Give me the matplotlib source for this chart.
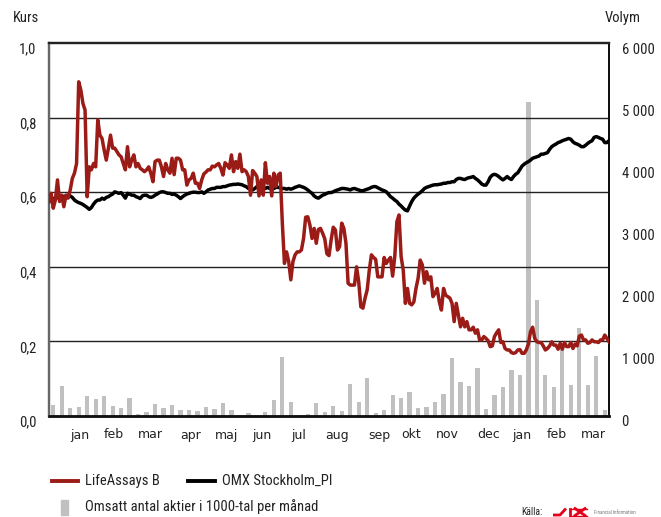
import numpy as np
import matplotlib
matplotlib.use("Agg")
import matplotlib.pyplot as plt
from matplotlib import font_manager
from matplotlib.font_manager import FontProperties
from matplotlib.transforms import ScaledTranslation
from matplotlib.lines import Line2D
from matplotlib.patches import Rectangle

# ---------------- data ----------------
month_labels = ["jan", "feb", "mar", "apr", "maj", "jun", "jul", "aug",
                "sep", "okt", "nov", "dec", "jan", "feb", "mar"]
month_pos = [3.14, 7.14, 11.5, 16.2, 20.4, 24.6, 28.9, 33.4,
             38.4, 42.2, 46.5, 51.3, 55.2, 59.3, 63.6]

volume = [177, 483, 129, 145, 322, 274, 322, 161, 129, 290,
          32, 64, 193, 129, 177, 97, 97, 80, 145, 113,
          209, 97, 16, 48, 0, 64, 258, 950, 225, 16,
          32, 209, 64, 161, 80, 515, 225, 612, 48, 97,
          338, 290, 386, 129, 145, 225, 354, 934, 547, 483,
          773, 113, 338, 467, 741, 660, 5050, 1870, 660, 467,
          1140, 499, 1415, 499, 966, 97]

lifeassays = [
    0.575, 0.597, 0.557, 0.579, 0.633, 0.575, 0.592, 0.561, 0.592, 0.584,
    0.606, 0.637, 0.651, 0.677, 0.896, 0.874, 0.838, 0.820, 0.588, 0.668,
    0.660, 0.677, 0.668, 0.794, 0.753, 0.744, 0.713, 0.686, 0.718, 0.753,
    0.718, 0.718, 0.709, 0.700, 0.695, 0.677, 0.660, 0.722, 0.668, 0.686,
    0.700, 0.668, 0.677, 0.664, 0.660, 0.655, 0.660, 0.668, 0.651, 0.628,
    0.682, 0.686, 0.686, 0.668, 0.642, 0.677, 0.660, 0.651, 0.691, 0.647,
    0.691, 0.691, 0.686, 0.660, 0.660, 0.619, 0.633, 0.637, 0.651, 0.624,
    0.624, 0.610, 0.633, 0.649, 0.654, 0.660, 0.660, 0.670, 0.668, 0.673,
    0.677, 0.664, 0.646, 0.679, 0.673, 0.664, 0.700, 0.655, 0.682, 0.664,
    0.702, 0.655, 0.660, 0.655, 0.642, 0.592, 0.658, 0.651, 0.642, 0.590,
    0.633, 0.592, 0.679, 0.624, 0.642, 0.590, 0.651, 0.615, 0.646, 0.651,
    0.517, 0.409, 0.440, 0.414, 0.365, 0.414, 0.432, 0.440, 0.440, 0.445,
    0.476, 0.533, 0.534, 0.512, 0.476, 0.503, 0.463, 0.500, 0.503, 0.490,
    0.475, 0.435, 0.430, 0.472, 0.506, 0.499, 0.445, 0.454, 0.517, 0.503,
    0.463, 0.356, 0.351, 0.351, 0.351, 0.400, 0.360, 0.293, 0.289, 0.316,
    0.338, 0.391, 0.432, 0.425, 0.420, 0.373, 0.373, 0.373, 0.425, 0.409,
    0.418, 0.425, 0.375, 0.427, 0.521, 0.539, 0.427, 0.391, 0.302, 0.342,
    0.302, 0.298, 0.306, 0.342, 0.369, 0.418, 0.405, 0.356, 0.387, 0.365,
    0.373, 0.320, 0.329, 0.342, 0.306, 0.284, 0.342, 0.324, 0.320, 0.316,
    0.302, 0.253, 0.302, 0.271, 0.239, 0.262, 0.239, 0.253, 0.231, 0.231,
    0.238, 0.222, 0.231, 0.204, 0.204, 0.213, 0.208, 0.202, 0.186, 0.188,
    0.213, 0.223, 0.231, 0.197, 0.199, 0.181, 0.177, 0.177, 0.170, 0.168,
    0.170, 0.177, 0.178, 0.168, 0.168, 0.177, 0.193, 0.226, 0.238, 0.208,
    0.199, 0.197, 0.197, 0.188, 0.177, 0.181, 0.188, 0.199, 0.190, 0.190,
    0.179, 0.195, 0.179, 0.197, 0.186, 0.186, 0.197, 0.181, 0.193, 0.188,
    0.214, 0.217, 0.204, 0.204, 0.195, 0.197, 0.204, 0.199, 0.199, 0.197,
    0.204, 0.204, 0.217, 0.208, 0.199]

omx = [
    0.575, 0.578, 0.582, 0.585, 0.585, 0.588, 0.590, 0.588, 0.590, 0.592,
    0.590, 0.586, 0.579, 0.575, 0.572, 0.570, 0.567, 0.563, 0.559, 0.554,
    0.559, 0.568, 0.575, 0.579, 0.579, 0.584, 0.581, 0.586, 0.588, 0.592,
    0.595, 0.601, 0.599, 0.597, 0.599, 0.592, 0.584, 0.597, 0.595, 0.592,
    0.592, 0.588, 0.586, 0.583, 0.590, 0.592, 0.592, 0.588, 0.586, 0.588,
    0.592, 0.595, 0.599, 0.601, 0.601, 0.599, 0.597, 0.597, 0.594, 0.595,
    0.592, 0.588, 0.583, 0.588, 0.592, 0.595, 0.597, 0.599, 0.600, 0.600,
    0.599, 0.599, 0.601, 0.597, 0.601, 0.606, 0.608, 0.610, 0.610, 0.613,
    0.613, 0.613, 0.615, 0.615, 0.617, 0.619, 0.620, 0.621, 0.621, 0.622,
    0.621, 0.620, 0.617, 0.615, 0.610, 0.608, 0.606, 0.610, 0.615, 0.617,
    0.615, 0.613, 0.610, 0.613, 0.610, 0.610, 0.610, 0.613, 0.613, 0.612,
    0.610, 0.610, 0.608, 0.610, 0.608, 0.610, 0.613, 0.615, 0.617, 0.615,
    0.613, 0.610, 0.606, 0.601, 0.597, 0.590, 0.586, 0.584, 0.588, 0.592,
    0.594, 0.597, 0.599, 0.599, 0.601, 0.604, 0.606, 0.608, 0.610, 0.610,
    0.609, 0.608, 0.606, 0.609, 0.610, 0.608, 0.606, 0.604, 0.604, 0.606,
    0.608, 0.610, 0.613, 0.615, 0.615, 0.612, 0.609, 0.606, 0.604, 0.601,
    0.595, 0.588, 0.584, 0.579, 0.575, 0.568, 0.563, 0.557, 0.552, 0.550,
    0.563, 0.575, 0.584, 0.590, 0.595, 0.599, 0.604, 0.610, 0.613, 0.615,
    0.617, 0.619, 0.620, 0.620, 0.621, 0.622, 0.624, 0.624, 0.626, 0.626,
    0.628, 0.628, 0.634, 0.637, 0.637, 0.635, 0.634, 0.637, 0.639, 0.640,
    0.642, 0.637, 0.633, 0.628, 0.622, 0.619, 0.619, 0.628, 0.640, 0.646,
    0.648, 0.646, 0.642, 0.637, 0.633, 0.637, 0.642, 0.637, 0.634, 0.642,
    0.648, 0.652, 0.661, 0.670, 0.675, 0.679, 0.682, 0.686, 0.691, 0.693,
    0.695, 0.697, 0.702, 0.702, 0.704, 0.706, 0.715, 0.722, 0.726, 0.729,
    0.733, 0.735, 0.738, 0.740, 0.742, 0.744, 0.742, 0.735, 0.731, 0.729,
    0.726, 0.722, 0.722, 0.726, 0.731, 0.735, 0.738, 0.747, 0.749, 0.747,
    0.744, 0.742, 0.733, 0.733, 0.738]

# ---------------- fonts ----------------
cond_file = None
pref = ["Liberation Sans Narrow", "Roboto Condensed", "DejaVu Sans Condensed",
        "Open Sans Condensed", "Noto Sans Condensed"]
fl = font_manager.fontManager.ttflist
for nm in pref:
    for f in fl:
        if f.name == nm and f.weight in (400, "normal", "regular") and f.style == "normal":
            cond_file = f.fname
            break
    if cond_file:
        break
if cond_file is None:
    for f in fl:
        s = str(f.stretch).lower()
        fn = f.fname.lower()
        if f.style == "normal" and ("condensed" in fn or "narrow" in fn or s in ("condensed", "semi-condensed")) \
                and "bold" not in fn and "oblique" not in fn and "italic" not in fn and "light" not in fn:
            cond_file = f.fname
            break


def CF(size):
    if cond_file:
        return FontProperties(fname=cond_file, size=size)
    return FontProperties(family="DejaVu Sans", stretch="condensed", size=size * 0.85)


RED = "#9b1b17"
GRAY = "#c0c0c0"
TXT = "#222222"

W, H = 661, 517
fig = plt.figure(figsize=(W / 100, H / 100), dpi=100)
fig.patch.set_facecolor("white")


def fx(px):
    return px / W


def fy(py):
    return 1 - py / H


L, R, T, B = 49, 609, 43, 416
rect = [fx(L), fy(B), fx(R) - fx(L), fy(T) - fy(B)]

# ---- bars axis (right scale) ----
axb = fig.add_axes(rect)
weeks = np.arange(len(volume))
axb.bar(weeks, volume, width=0.5, color=GRAY, zorder=1)
axb.set_ylim(0, 6000)
axb.set_xlim(-0.5, len(volume) - 0.5)
axb.yaxis.tick_right()
axb.set_yticks([0, 1000, 2000, 3000, 4000, 5000, 6000])
axb.set_yticklabels(["0", "1 000", "2 000", "3 000", "4 000", "5 000", "6 000"])
axb.tick_params(axis="y", length=0, pad=9, colors=TXT)
axb.set_xticks(month_pos)
axb.set_xticklabels(month_labels)
axb.tick_params(axis="x", length=0, pad=9, labelsize=9, colors=TXT)

# ---- lines axis (left scale) ----
axl = fig.add_axes(rect)
axl.patch.set_visible(False)
axl.set_ylim(0, 1.0)
axl.set_xlim(-0.5, len(volume) - 0.5)
axl.set_xticks([])
axl.set_yticks([0, 0.2, 0.4, 0.6, 0.8, 1.0])
axl.set_yticklabels(["0,0", "0,2", "0,4", "0,6", "0,8", "1,0"])
axl.tick_params(axis="y", length=0, pad=9, colors=TXT)
for y in [0.2, 0.4, 0.6, 0.8]:
    axl.axhline(y, color=TXT, lw=1.0, zorder=1)

t = np.arange(len(lifeassays)) * 0.25 - 0.5
axl.plot(t, omx, color="black", lw=2.5, zorder=3, solid_joinstyle="round")
axl.plot(t, lifeassays, color=RED, lw=2.5, zorder=4, solid_joinstyle="round")

for ax in (axb, axl):
    ax.spines["top"].set_color(TXT)
    ax.spines["top"].set_linewidth(1.6)
    ax.spines["left"].set_color("#666666")
    ax.spines["left"].set_linewidth(1.6)
    ax.spines["bottom"].set_color("#111111")
    ax.spines["bottom"].set_linewidth(1.8)
    ax.spines["right"].set_color("#111111")
    ax.spines["right"].set_linewidth(1.4)

off = ScaledTranslation(0, -5 / 100, fig.dpi_scale_trans)
for lab in axb.get_yticklabels() + axl.get_yticklabels():
    lab.set_fontproperties(CF(10.5))
    lab.set_transform(lab.get_transform() + off)
for lab in axb.get_xticklabels():
    lab.set_fontfamily("DejaVu Sans")
    lab.set_fontsize(9)

# axis titles
fig.text(fx(13), fy(18), "Kurs", fontproperties=CF(10.5), color=TXT,
         ha="left", va="center")
fig.text(fx(605), fy(18), "Volym", fontproperties=CF(10.5), color=TXT,
         ha="left", va="center")

# legend (manual)
fig.add_artist(Line2D([fx(52), fx(78)], [fy(481), fy(481)], color=RED, lw=2.8,
                      transform=fig.transFigure))
fig.text(fx(85), fy(481), "LifeAssays B", fontproperties=CF(10.5),
         color=TXT, ha="left", va="center")
fig.add_artist(Line2D([fx(188), fx(215)], [fy(481), fy(481)], color="black", lw=2.8,
                      transform=fig.transFigure))
fig.text(fx(222), fy(481), "OMX Stockholm_PI", fontproperties=CF(10.5),
         color=TXT, ha="left", va="center")
fig.add_artist(Rectangle((fx(61), fy(515)), fx(7), 15 / H, color=GRAY,
                         transform=fig.transFigure))
fig.text(fx(85), fy(507), "Omsatt antal aktier i 1000-tal per månad",
         fontproperties=CF(10.5), color=TXT, ha="left", va="center")

# source
fig.text(fx(521), fy(512), "Källa:", fontproperties=CF(7), color=TXT,
         ha="left", va="center")
LOGO = "#e3001b"
lw_logo = 2.0
fig.add_artist(Line2D([fx(553), fx(560), fx(566)], [fy(515), fy(515), fy(508.5)],
                      color=LOGO, lw=lw_logo, transform=fig.transFigure,
                      solid_capstyle="butt"))
fig.add_artist(Line2D([fx(570), fx(570)], [fy(508.5), fy(515.5)], color=LOGO,
                      lw=lw_logo, transform=fig.transFigure))
fig.add_artist(Line2D([fx(575), fx(585)], [fy(508.5), fy(515.5)], color=LOGO,
                      lw=lw_logo, transform=fig.transFigure))
fig.add_artist(Line2D([fx(575), fx(585)], [fy(515.5), fy(508.5)], color=LOGO,
                      lw=lw_logo, transform=fig.transFigure))
fig.add_artist(Line2D([fx(570), fx(587)], [fy(508.5), fy(508.5)], color=LOGO,
                      lw=1.0, transform=fig.transFigure))
fig.add_artist(Line2D([fx(570), fx(587)], [fy(515.5), fy(515.5)], color=LOGO,
                      lw=1.0, transform=fig.transFigure))
fig.text(fx(594), fy(513), "Financial Information", fontproperties=CF(3.5),
         color="#777777", ha="left", va="center")

fig.savefig("out.png", dpi=100, facecolor="white")
